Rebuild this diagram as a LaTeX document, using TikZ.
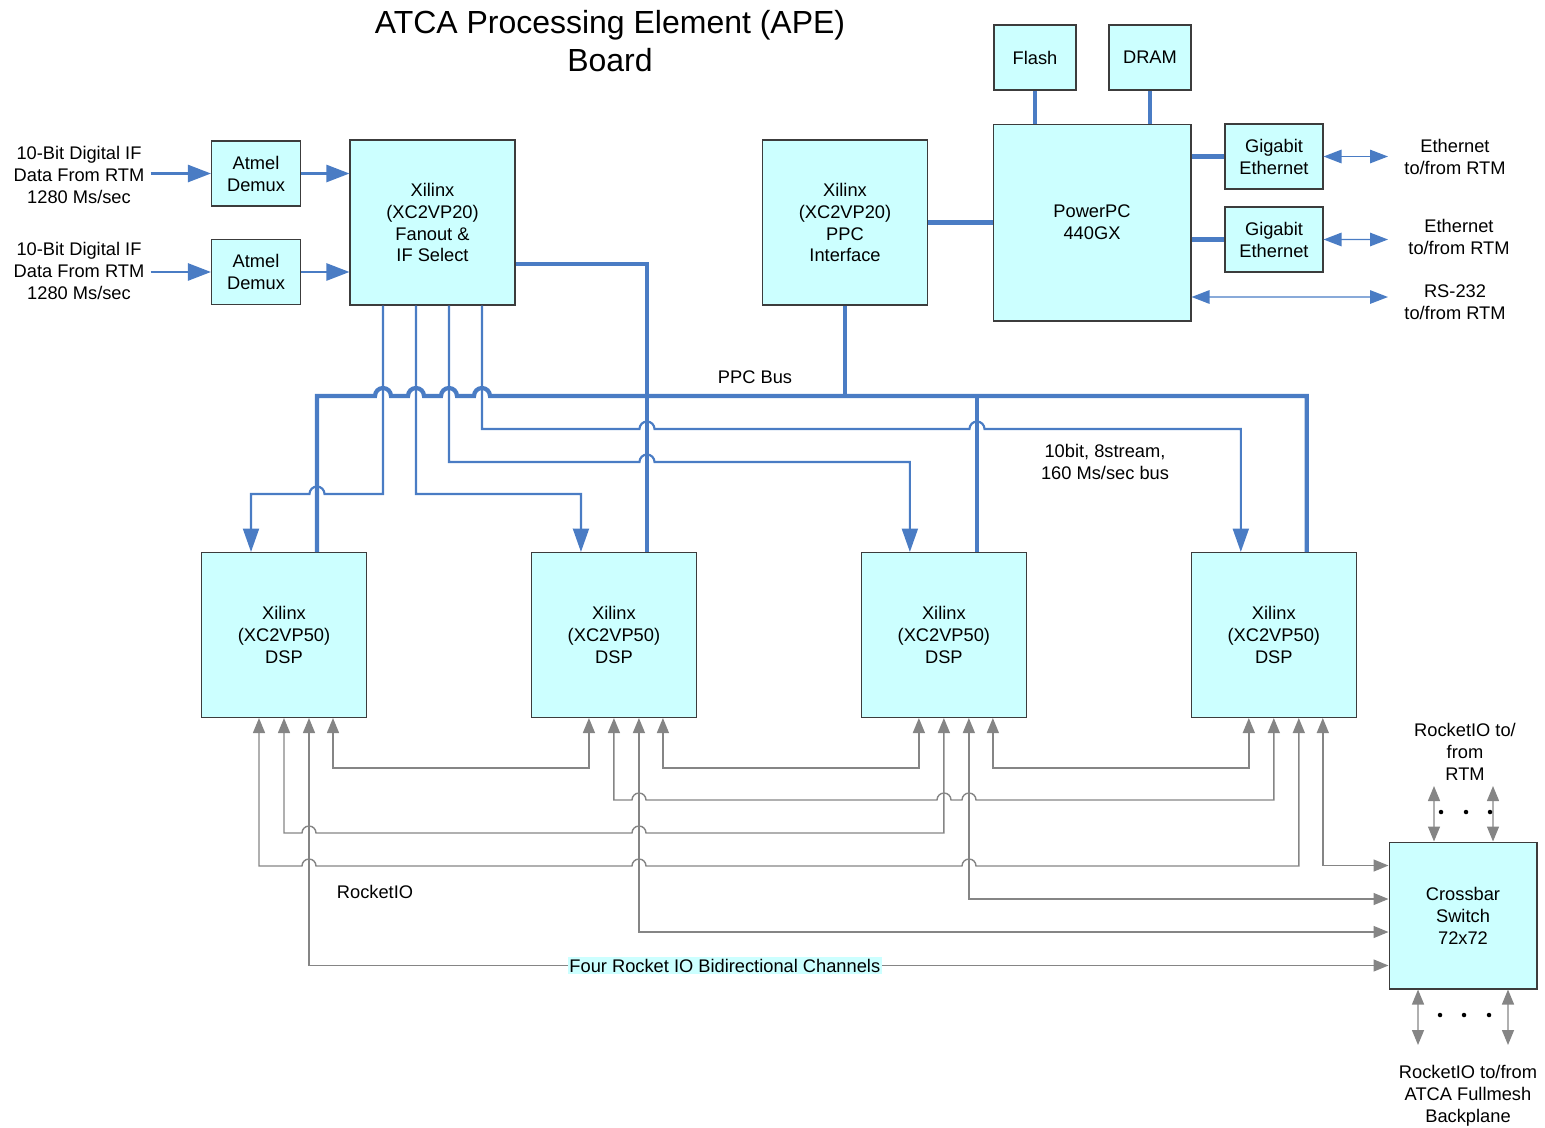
\documentclass[tikz,border=0pt]{standalone}
\usepackage{fontspec}
\setmainfont{Liberation Sans}
\usetikzlibrary{arrows.meta, positioning}
\definecolor{chipfill}{HTML}{CCFFFF}
\definecolor{chipedge}{HTML}{3C3C3C}
\definecolor{busblue}{HTML}{4A7CC4}
\definecolor{riogray}{HTML}{858585}
\tikzstyle{chip} = [rectangle, minimum width=3.3cm, minimum height=3.3cm, align=center, draw=chipedge, fill=chipfill, line width=0.6pt]
\tikzstyle{demux} = [chip, minimum width=1.78cm, minimum height=1.3cm]
\tikzstyle{memchip} = [chip, minimum width=1.64cm, minimum height=1.3cm]
\tikzstyle{phychip} = [chip, minimum width=1.96cm, minimum height=1.3cm]
\tikzstyle{cpu} = [chip, minimum width=3.96cm, minimum height=3.94cm]
\tikzstyle{switchbox} = [chip, minimum width=2.96cm, minimum height=2.94cm]
\tikzstyle{plaintext} = [align=center]
\tikzstyle{titletext} = [align=center, font=\fontsize{18.2}{21.6}\selectfont]
\tikzstyle{chanlabel} = [fill=chipfill, inner sep=1pt]
\tikzstyle{busline} = [draw=busblue, line width=2.4pt]
\tikzstyle{fanline} = [draw=busblue, line width=1.2pt, -{Triangle[length=0.47cm,width=0.32cm]}]
\tikzstyle{inarrow} = [draw=busblue, line width=1.4pt, -{Triangle[length=0.46cm,width=0.34cm]}]
\tikzstyle{ethline} = [draw=busblue, line width=0.8pt, {Triangle[length=0.36cm,width=0.27cm]}-{Triangle[length=0.36cm,width=0.27cm]}]
\tikzstyle{rioline} = [draw=riogray, line width=0.8pt, {Triangle[length=0.3cm,width=0.24cm]}-{Triangle[length=0.3cm,width=0.24cm]}]

\begin{document}
\begin{tikzpicture}[x=0.02cm, y=-0.02cm, font=\fontsize{10.4}{12.5}\selectfont]
    \useasboundingbox (0,0) rectangle (1545,1127);

    \node (title) [titletext] at (610,41) {ATCA Processing Element (APE)\\Board};

    % boards and chips
    \node (in1) [plaintext] at (79,175) {10-Bit Digital IF\\Data From RTM\\1280 Ms/sec};
    \node (in2) [plaintext] at (79,271) {10-Bit Digital IF\\Data From RTM\\1280 Ms/sec};
    \node (dem1) [demux] at (256,173.5) {Atmel\\Demux};
    \node (dem2) [demux, below of=dem1, node distance=1.97cm] {Atmel\\Demux};
    \node (fanout) [chip] at (432.5,222.5) {Xilinx\\(XC2VP20)\\Fanout \&\\IF Select};
    \node (ppcif) [chip] at (845,222.5) {Xilinx\\(XC2VP20)\\PPC\\Interface};
    \node (ppc) [cpu] at (1092,222.5) {PowerPC\\440GX};
    \node (flash) [memchip] at (1035,57.5) {Flash};
    \node (dram) [memchip, right of=flash, node distance=2.3cm] {DRAM};
    \node (gig1) [phychip] at (1274,156.5) {Gigabit\\Ethernet};
    \node (gig2) [phychip, below of=gig1, node distance=1.66cm] {Gigabit\\Ethernet};
    \node (dsp1) [chip] at (284,635) {Xilinx\\(XC2VP50)\\DSP};
    \node (dsp2) [chip, right of=dsp1, node distance=6.6cm] {Xilinx\\(XC2VP50)\\DSP};
    \node (dsp3) [chip, right of=dsp2, node distance=6.6cm] {Xilinx\\(XC2VP50)\\DSP};
    \node (dsp4) [chip, right of=dsp3, node distance=6.6cm] {Xilinx\\(XC2VP50)\\DSP};
    \node (xbar) [switchbox] at (1463,915.5) {Crossbar\\Switch\\72x72};

    % labels
    \node (eth1) [plaintext] at (1455,157) {Ethernet\\to/from RTM};
    \node (eth2) [plaintext] at (1459,237) {Ethernet\\to/from RTM};
    \node (rs) [plaintext] at (1455,302) {RS-232\\to/from RTM};
    \node (ppcbuslbl) [plaintext] at (755,377) {PPC Bus};
    \node (fanbuslbl) [plaintext] at (1105,462) {10bit, 8stream,\\160 Ms/sec bus};
    \node (riolbl) [plaintext] at (375,892) {RocketIO};
    \node (rtmlbl) [plaintext] at (1465,752) {RocketIO to/\\from\\RTM};
    \node (bplbl) [plaintext] at (1468,1096) {RocketIO to/from\\ATCA Fullmesh\\Backplane};

    \coordinate (ppcbus) at (755,396);
    \coordinate (eth1end) at (1388,156.5);
    \coordinate (eth2end) at (1388,239.5);
    \coordinate (rsend) at (1388,297);
    \coordinate (rtmA) at (1434,786);
    \coordinate (rtmB) at (1493,786);
    \coordinate (bpA) at (1418,1045);
    \coordinate (bpB) at (1508,1045);

    % inputs
    \draw [inarrow] (in1.east |- dem1.west) -- (dem1.west);
    \draw [inarrow] (in2.east |- dem2.west) -- (dem2.west);
    \draw [inarrow] (dem1.east) -- (fanout.west |- dem1.east);
    \draw [inarrow] (dem2.east) -- (fanout.west |- dem2.east);

    % PPC bus
    \draw [busline] ([xshift=0.66cm]dsp1.north) |- (375,396) arc[start angle=180,end angle=0,radius=0.16cm]
        -- (408,396) arc[start angle=180,end angle=0,radius=0.16cm]
        -- (441,396) arc[start angle=180,end angle=0,radius=0.16cm]
        -- (474,396) arc[start angle=180,end angle=0,radius=0.16cm]
        -| ([xshift=0.66cm]dsp4.north);
    \draw [busline] (ppcif.south) -- (ppcif.south |- ppcbus);
    \draw [busline] ([xshift=0.66cm]dsp3.north) -- ([xshift=0.66cm]dsp3.north |- ppcbus);
    \draw [busline] ([yshift=-0.83cm]fanout.east) -| ([xshift=0.66cm]dsp2.north);
    \draw [busline] (ppcif.east) -- (ppc.west);
    \draw [busline] (flash.south) -- (flash.south |- ppc.north);
    \draw [busline] (dram.south) -- (dram.south |- ppc.north);
    \draw [busline] (ppc.east |- gig1.west) -- (gig1.west);
    \draw [busline] (ppc.east |- gig2.west) -- (gig2.west);

    % fanout bus
    \draw [fanline] ([xshift=-0.99cm]fanout.south) |- (324.5,494)
        arc[start angle=0,end angle=180,radius=0.15cm] -| ([xshift=-0.66cm]dsp1.north);
    \draw [fanline] ([xshift=-0.33cm]fanout.south) |- (581,494) -- ([xshift=-0.66cm]dsp2.north);
    \draw [fanline] ([xshift=0.33cm]fanout.south) |- (639.5,462)
        arc[start angle=180,end angle=0,radius=0.15cm] -| ([xshift=-0.68cm]dsp3.north);
    \draw [fanline] ([xshift=0.99cm]fanout.south) |- (639.5,429)
        arc[start angle=180,end angle=0,radius=0.15cm] -- (969.5,429)
        arc[start angle=180,end angle=0,radius=0.15cm] -| ([xshift=-0.66cm]dsp4.north);

    % ethernet and serial
    \draw [ethline] (gig1.east) -- (eth1end);
    \draw [ethline] (gig2.east) -- (eth2end);
    \draw [ethline] ([yshift=-1.49cm]ppc.east) -- (rsend);

    % RocketIO links
    \draw [rioline] ([xshift=0.98cm]dsp1.south) -- ++(0,50) -| ([xshift=-0.5cm]dsp2.south);
    \draw [rioline] ([xshift=0.98cm]dsp2.south) -- ++(0,50) -| ([xshift=-0.5cm]dsp3.south);
    \draw [rioline] ([xshift=0.98cm]dsp3.south) -- ++(0,50) -| ([xshift=-0.5cm]dsp4.south);
    \draw [rioline] (dsp2.south) |- (632,800)
        arc[start angle=180,end angle=0,radius=0.14cm] -- (937,800)
        arc[start angle=180,end angle=0,radius=0.14cm] -- (962,800)
        arc[start angle=180,end angle=0,radius=0.14cm] -| (dsp4.south);
    \draw [rioline] (dsp1.south) |- (302,833)
        arc[start angle=180,end angle=0,radius=0.14cm] -- (632,833)
        arc[start angle=180,end angle=0,radius=0.14cm] -| (dsp3.south);
    \draw [rioline] ([xshift=-0.5cm]dsp1.south) |- (302,866)
        arc[start angle=180,end angle=0,radius=0.14cm] -- (632,866)
        arc[start angle=180,end angle=0,radius=0.14cm] -- (962,866)
        arc[start angle=180,end angle=0,radius=0.14cm] -| ([xshift=0.5cm]dsp4.south);
    \draw [rioline] ([xshift=0.98cm]dsp4.south) |- ([yshift=1cm]xbar.west);
    \draw [rioline] ([xshift=0.5cm]dsp3.south) |- ([yshift=0.33cm]xbar.west);
    \draw [rioline] ([xshift=0.5cm]dsp2.south) |- ([yshift=-0.33cm]xbar.west);
    \draw [rioline] ([xshift=0.5cm]dsp1.south) |- ([yshift=-1cm]xbar.west)
        node [chanlabel, pos=0.6926] {Four Rocket IO Bidirectional Channels};

    % crossbar off-board links
    \draw [rioline] ([xshift=-0.58cm]xbar.north) -- (rtmA);
    \draw [rioline] ([xshift=0.6cm]xbar.north) -- (rtmB);
    \draw [rioline] ([xshift=-0.9cm]xbar.south) -- (bpA);
    \draw [rioline] ([xshift=0.9cm]xbar.south) -- (bpB);
    \foreach \dx in {1441,1466,1490} \fill (\dx,812) circle (0.045cm);
    \foreach \dx in {1440,1464,1489} \fill (\dx,1015) circle (0.045cm);
\end{tikzpicture}
\end{document}
